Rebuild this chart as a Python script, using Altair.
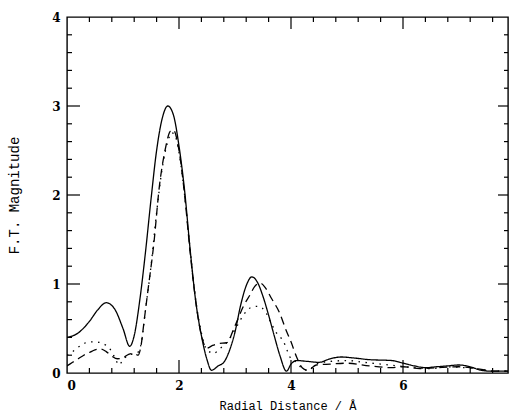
import altair as alt
import pandas as pd

# ---- data ----
solid_x = [0.0, 0.2, 0.4, 0.55, 0.7, 0.85, 1.0, 1.12, 1.2, 1.3, 1.4, 1.5, 1.6, 1.7, 1.8, 1.9, 2.0, 2.1, 2.2, 2.3, 2.4, 2.5, 2.58, 2.7, 2.8, 2.9, 3.0, 3.1, 3.2, 3.3, 3.4, 3.5, 3.6, 3.7, 3.8, 3.92, 4.0, 4.1, 4.3, 4.5, 4.7, 4.9, 5.1, 5.4, 5.8, 6.0, 6.2, 6.4, 6.6, 6.8, 7.0, 7.2, 7.4, 7.6, 7.875]
solid_y = [0.40, 0.45, 0.58, 0.71, 0.79, 0.72, 0.50, 0.30, 0.42, 0.82, 1.35, 1.95, 2.50, 2.86, 3.00, 2.90, 2.55, 2.05, 1.38, 0.80, 0.42, 0.15, 0.03, 0.08, 0.12, 0.25, 0.46, 0.76, 0.98, 1.08, 1.02, 0.86, 0.65, 0.42, 0.20, 0.02, 0.10, 0.14, 0.13, 0.12, 0.16, 0.18, 0.17, 0.15, 0.14, 0.11, 0.08, 0.06, 0.07, 0.08, 0.09, 0.07, 0.03, 0.02, 0.02]

dashed_x = [0.0, 0.1, 0.2, 0.3, 0.4, 0.5, 0.6, 0.7, 0.8, 0.9, 1.0, 1.1, 1.2, 1.27, 1.32, 1.38, 1.45, 1.55, 1.65, 1.75, 1.85, 1.9, 2.0, 2.1, 2.2, 2.3, 2.4, 2.5, 2.6, 2.7, 2.85, 3.0, 3.15, 3.27, 3.35, 3.45, 3.55, 3.65, 3.8, 3.9, 4.0, 4.1, 4.2, 4.3, 4.45, 4.7, 5.0, 5.4, 5.8, 6.0, 6.3, 6.6, 7.0, 7.2, 7.4, 7.6, 7.875]
dashed_y = [0.08, 0.12, 0.16, 0.20, 0.23, 0.26, 0.27, 0.24, 0.19, 0.16, 0.17, 0.21, 0.22, 0.20, 0.30, 0.60, 0.95, 1.45, 2.10, 2.50, 2.72, 2.73, 2.50, 2.00, 1.35, 0.80, 0.42, 0.28, 0.31, 0.33, 0.34, 0.53, 0.75, 0.88, 0.97, 1.01, 0.95, 0.84, 0.67, 0.50, 0.35, 0.18, 0.06, 0.03, 0.09, 0.10, 0.11, 0.08, 0.06, 0.07, 0.05, 0.06, 0.07, 0.06, 0.04, 0.02, 0.02]

dotted_x = [0.0, 0.1, 0.2, 0.3, 0.4, 0.5, 0.6, 0.7, 0.8, 0.87, 0.93, 1.0, 1.1, 1.2, 1.28, 1.33, 1.4, 1.5, 1.6, 1.7, 1.8, 1.87, 1.92, 2.0, 2.1, 2.2, 2.3, 2.4, 2.5, 2.63, 2.7, 2.85, 3.03, 3.15, 3.3, 3.42, 3.55, 3.63, 3.74, 3.86, 4.0, 4.1, 4.2, 4.3, 4.45, 4.7, 5.0, 5.3, 5.6, 5.9, 6.2, 6.5, 6.8, 7.1, 7.4, 7.6, 7.875]
dotted_y = [0.20, 0.24, 0.29, 0.33, 0.35, 0.35, 0.34, 0.31, 0.24, 0.15, 0.09, 0.15, 0.20, 0.22, 0.24, 0.35, 0.70, 1.20, 1.80, 2.30, 2.60, 2.70, 2.68, 2.48, 2.00, 1.38, 0.82, 0.45, 0.26, 0.22, 0.26, 0.34, 0.52, 0.65, 0.74, 0.75, 0.68, 0.58, 0.45, 0.36, 0.16, 0.12, 0.05, 0.03, 0.10, 0.13, 0.14, 0.12, 0.10, 0.08, 0.06, 0.05, 0.07, 0.06, 0.04, 0.02, 0.02]

x_labels = [0, 2, 4, 6]
y_labels = [0, 1, 2, 3, 4]
x_major = [2, 4, 6]
x_minor = [0.4, 0.8, 1.2, 1.6, 2.4, 2.8, 3.2, 3.6, 4.4, 4.8, 5.2, 5.6, 6.4, 6.8, 7.2, 7.6]
y_major = [1, 2, 3]
y_minor = [0.2, 0.4, 0.6, 0.8, 1.2, 1.4, 1.6, 1.8, 2.2, 2.4, 2.6, 2.8, 3.2, 3.4, 3.6, 3.8]

# ---- build table ----
rows = []
for name, xs, ys in [("solid", solid_x, solid_y), ("dashed", dashed_x, dashed_y), ("dotted", dotted_x, dotted_y)]:
    for a, b in zip(xs, ys):
        rows.append({"r": a, "m": b, "s": name})
df = pd.DataFrame(rows)

W, H = 441, 356
LFONT = "DejaVu Serif"
TFONT = "Liberation Mono"
xscale = alt.Scale(domain=[0, 7.875], nice=False, zero=False)
yscale = alt.Scale(domain=[0, 4], nice=False, zero=False)

x_axis = alt.Axis(values=x_labels, ticks=False, domain=False, grid=False, format="d",
                  title="Radial Distance / Å", labelPadding=7, titlePadding=9,
                  labelFont=LFONT, labelFontSize=12, labelFontWeight="bold", labelColor="black",
                  titleFont=TFONT, titleFontSize=12, titleFontWeight="normal", titleColor="black")
y_axis = alt.Axis(values=y_labels, ticks=False, domain=False, grid=False, format="d",
                  title="F.T. Magnitude", labelPadding=7, titlePadding=30,
                  labelFont=LFONT, labelFontSize=12, labelFontWeight="bold", labelColor="black",
                  titleFont=TFONT, titleFontSize=14, titleFontWeight="normal", titleColor="black")

lines = alt.Chart(df).mark_line(color="black", strokeWidth=1.3, interpolate="monotone", clip=True).encode(
    x=alt.X("r:Q", scale=xscale, axis=x_axis),
    y=alt.Y("m:Q", scale=yscale, axis=y_axis),
    strokeDash=alt.StrokeDash("s:N", scale=alt.Scale(domain=["solid", "dashed", "dotted"],
                                                      range=[[1, 0], [8, 5], [1.5, 5.5]]), legend=None),
    detail="s:N",
)


def xticks(vals, bottom, length):
    ch = alt.Chart(pd.DataFrame({"t": vals})).mark_rule(color="black", strokeWidth=1.2)
    if bottom:
        return ch.encode(x=alt.X("t:Q", scale=xscale, axis=x_axis), y=alt.value(H), y2=alt.value(H - length))
    return ch.encode(x=alt.X("t:Q", scale=xscale, axis=x_axis), y=alt.value(0), y2=alt.value(length))


def yticks(vals, left, length):
    ch = alt.Chart(pd.DataFrame({"t": vals})).mark_rule(color="black", strokeWidth=1.2)
    if left:
        return ch.encode(y=alt.Y("t:Q", scale=yscale, axis=y_axis), x=alt.value(0), x2=alt.value(length))
    return ch.encode(y=alt.Y("t:Q", scale=yscale, axis=y_axis), x=alt.value(W), x2=alt.value(W - length))


chart = alt.layer(
    lines,
    xticks(x_major, True, 13), xticks(x_minor, True, 5),
    xticks(x_major, False, 12), xticks(x_minor, False, 5),
    yticks(y_major, True, 13), yticks(y_minor, True, 5),
    yticks(y_major, False, 10), yticks(y_minor, False, 4),
).properties(
    width=W, height=H,
    autosize=alt.AutoSizeParams(type="none"),
    padding={"left": 67, "top": 17, "right": 1, "bottom": 44},
    background="white",
).configure_view(stroke="black", strokeWidth=1.4)

chart.save("out.html", embed_options={"renderer": "svg", "actions": False})
